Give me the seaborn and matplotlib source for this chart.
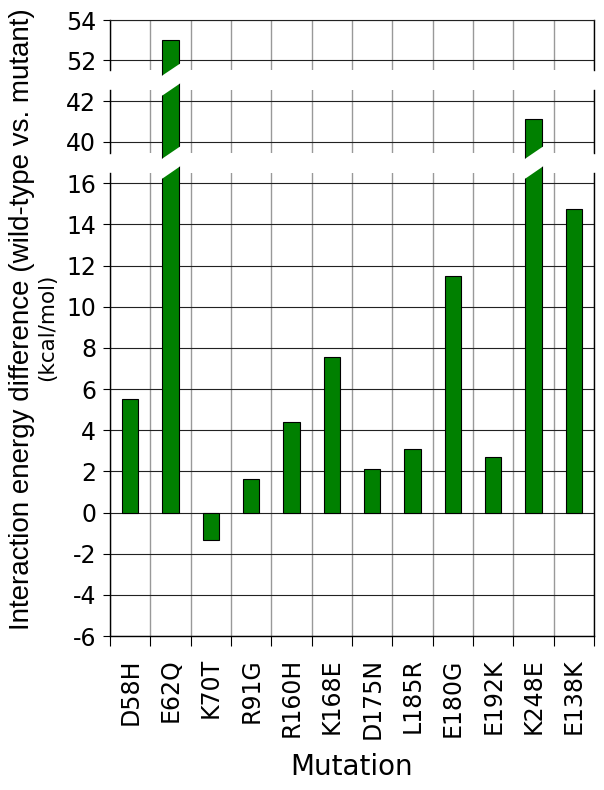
import numpy as np
import pandas as pd
import matplotlib
matplotlib.use("Agg")
import matplotlib.pyplot as plt
from matplotlib.patches import Polygon
import seaborn as sns

MUTATIONS = ["D58H", "E62Q", "K70T", "R91G", "R160H", "K168E",
             "D175N", "L185R", "E180G", "E192K", "K248E", "E138K"]
ENERGY = [5.5, 53.0, -1.35, 1.65, 4.4, 7.55, 2.1, 3.1, 11.5, 2.7, 41.1, 14.75]

TOP_TICKS = [52, 54]
MID_TICKS = [40, 42]
LOW_TICKS = list(range(-6, 17, 2))

BAR_COLOR = "#008000"
W, H = 604, 790

plt.rcParams["axes.unicode_minus"] = False


def frac(x0, y0, x1, y1):
    # pixel box -> figure fractions
    return [x0 / W, 1 - y1 / H, (x1 - x0) / W, (y1 - y0) / H]


def cut_bars(ax, lo, hi, slant_lo, slant_hi, d=0.27):
    # slanted break ends: clip every bar with a per-bar polygon
    for bar in ax.patches:
        w = bar.get_width()
        xc = bar.get_x() + w / 2
        k = d / (w / 2)

        def bot(t):
            return lo + k * t if slant_lo else lo

        def top(t):
            return hi + k * t if slant_hi else hi

        verts = [(xc - w, top(-w)), (xc + w, top(w)), (xc + w, bot(w)), (xc - w, bot(-w))]
        poly = Polygon(verts, closed=True, transform=ax.transData)
        bar.set_clip_path(poly)
        bar.set_clip_box(None)


def style(ax, ylim, yticks, show_top, show_bottom):
    ax.set_ylim(*ylim)
    ax.set_yticks(yticks)
    ax.set_xlim(-0.5, len(MUTATIONS) - 0.5)
    ax.set_xticks(np.arange(-0.5, len(MUTATIONS), 1))
    ax.set_xticks(range(len(MUTATIONS)), minor=True)
    ax.set_axisbelow(True)
    ax.grid(axis="x", which="major", color="#999999", lw=1.0)
    ax.grid(axis="y", which="major", color="#222222", lw=0.8)
    ax.tick_params(axis="y", labelsize=17, length=5, width=0.8, pad=5, direction="out")
    ax.set_xlabel("")
    ax.set_ylabel("")
    for s in ["left", "right"]:
        ax.spines[s].set_color("black")
        ax.spines[s].set_linewidth(1.0)
    ax.spines["top"].set_visible(show_top)
    ax.spines["top"].set_color("#222222")
    ax.spines["top"].set_linewidth(0.8)
    ax.spines["bottom"].set_visible(show_bottom)
    ax.spines["bottom"].set_linewidth(1.0)


df = pd.DataFrame({"Mutation": MUTATIONS, "Energy": ENERGY})

fig = plt.figure(figsize=(W / 100, H / 100), dpi=100)
ax_top = fig.add_axes(frac(110, 20, 594, 70))
ax_mid = fig.add_axes(frac(110, 90, 594, 153))
ax_low = fig.add_axes(frac(110, 173, 594, 636))

for ax in (ax_top, ax_mid, ax_low):
    sns.barplot(data=df, x="Mutation", y="Energy", color=BAR_COLOR, saturation=1,
                width=0.4, edgecolor="black", linewidth=0.8, errorbar=None, ax=ax)

style(ax_top, (51.5, 54), TOP_TICKS, True, False)
style(ax_mid, (39.45, 42.55), MID_TICKS, False, False)
style(ax_low, (-6, 16.5), LOW_TICKS, False, True)

cut_bars(ax_top, 51.5, 54, True, False)
cut_bars(ax_mid, 39.45, 42.55, True, True)
cut_bars(ax_low, -6, 16.5, False, True)

for ax in (ax_top, ax_mid):
    ax.tick_params(axis="x", which="both", length=0, labelbottom=False)

ax_low.tick_params(axis="x", which="major", length=7, width=0.8, labelbottom=False)
ax_low.tick_params(axis="x", which="minor", length=0, pad=16)
ax_low.set_xticklabels(MUTATIONS, minor=True, rotation=90, fontsize=17)

fig.text(22 / W, 1 - 319 / H, "Interaction energy difference (wild-type vs. mutant)",
         rotation=90, ha="center", va="center", fontsize=20, family="Liberation Sans")
fig.text(47.5 / W, 1 - 327 / H, "(kcal/mol)", rotation=90, ha="center", va="center",
         fontsize=15.5)
fig.text(352 / W, 1 - 767 / H, "Mutation", ha="center", va="center", fontsize=20)

fig.savefig("out.png", dpi=100)
